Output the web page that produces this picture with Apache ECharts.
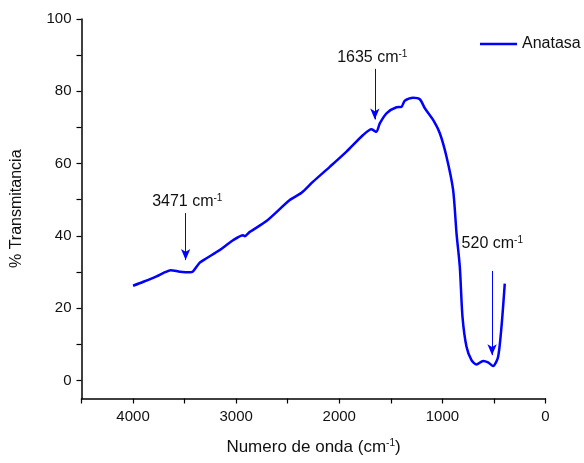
<!DOCTYPE html>
<html>
<head>
<meta charset="utf-8">
<script src="https://cdn.jsdelivr.net/npm/echarts@6/dist/echarts.min.js"></script>
<style>html,body{margin:0;padding:0;background:#fff}#c{width:584px;height:463px}</style>
</head>
<body>
<div id="c"></div>
<script>
// Wavenumber (cm-1) and transmittance (%)
const wavenumber = [4000, 3900, 3772, 3700, 3634, 3546, 3449, 3418, 3353, 3288, 3159, 3030, 2933, 2916, 2868, 2706, 2480, 2366, 2254, 2092, 1930, 1769, 1688, 1656, 1639, 1607, 1542, 1445, 1397, 1365, 1284, 1219, 1170, 1090, 1025, 960, 896, 863, 831, 805, 766, 718, 669, 605, 557, 508, 460, 427, 395];
const transmittance = [26.2, 27.3, 28.8, 29.8, 30.5, 30.1, 29.9, 30.2, 32.6, 33.8, 36.1, 38.8, 40.2, 39.9, 41.1, 44.1, 49.9, 51.9, 55.0, 59.1, 63.3, 67.9, 69.5, 69.0, 68.8, 71.1, 73.9, 75.6, 75.7, 77.4, 78.2, 77.8, 75.3, 72.1, 68.4, 61.9, 52.7, 40.7, 31.4, 17.6, 9.3, 5.6, 4.4, 5.4, 5.0, 4.0, 6.5, 14.8, 26.8];
const seriesName = 'Anatasa';
// Annotations
const annoText = ['3471 cm', '1635 cm', '520 cm'];
const annoLabelX = [3474, 1680, 516];
const annoLabelY = [49.6, 89.4, 37.9];
const arrowX = [3490, 1655, 518];
const arrowTop = [46.3, 86.2, 30.3];
const arrowTip = [33.3, 72.2, 7.0];
// Ticks and tick labels
const xLabels = [0, 1000, 2000, 3000, 4000];
const xTickValues = [0, 500, 1000, 1500, 2000, 2500, 3000, 3500, 4000, 4500];
const yLabels = [0, 20, 40, 60, 80, 100];
const yTickValues = [0, 10, 20, 30, 40, 50, 60, 70, 80, 90, 100];

const FONT = "'Liberation Sans', Arial, sans-serif";
const BLUE = '#0000FF';
const TXT = '#111';
const chart = echarts.init(document.getElementById('c'), null, {renderer: 'canvas'});
const data = wavenumber.map((w, i) => [w, transmittance[i]]);
chart.setOption({
  animation: false,
  backgroundColor: '#fff',
  grid: {left: 81.5, right: 38.5, top: 19, bottom: 64.5},
  legend: {
    left: 475, top: 31, itemWidth: 37, itemHeight: 2.5, itemGap: 5, icon: 'rect',
    data: [seriesName],
    textStyle: {fontSize: 16, fontFamily: FONT, color: TXT}
  },
  xAxis: {
    type: 'value', inverse: true, min: 0, max: 4500,
    splitLine: {show: false},
    axisLine: {lineStyle: {color: '#000', width: 1.5}, onZero: false},
    axisTick: {show: true, length: 5, customValues: xTickValues, lineStyle: {color: '#000', width: 1.2}},
    axisLabel: {fontSize: 15, fontFamily: FONT, color: TXT, margin: 11, customValues: xLabels,
      formatter: v => String(v)},
    name: 'Numero de onda (cm{s|-1}{a|)}', nameLocation: 'middle', nameGap: 40,
    nameTextStyle: {fontSize: 17, fontFamily: FONT, color: TXT,
      rich: {a: {fontSize: 17, fontFamily: FONT, color: TXT}, s: {fontSize: 10, fontFamily: FONT, color: TXT, verticalAlign: 'top'}}}
  },
  yAxis: {
    type: 'value', min: -5, max: 100,
    splitLine: {show: false},
    axisLine: {lineStyle: {color: '#000', width: 1.5}, onZero: false},
    axisTick: {show: true, length: 5, customValues: yTickValues, lineStyle: {color: '#000', width: 1.2}},
    axisLabel: {fontSize: 15, fontFamily: FONT, color: TXT, margin: 10, customValues: yLabels,
      formatter: v => String(v)},
    name: '% Transmitancia', nameLocation: 'middle', nameGap: 57, nameRotate: 90,
    nameTextStyle: {fontSize: 16, fontFamily: FONT, color: TXT}
  },
  series: [{
    name: seriesName, type: 'line', data: data, showSymbol: false, symbol: 'none',
    smooth: 0.25, lineStyle: {color: BLUE, width: 2.5}, itemStyle: {color: BLUE},
    markLine: {
      silent: true, symbol: ['none', 'arrow'], symbolSize: [7, 11],
      lineStyle: {color: BLUE, width: 1, type: 'solid'}, label: {show: false},
      data: arrowX.map((x, i) => [{coord: [x, arrowTop[i]]}, {coord: [x, arrowTip[i]]}])
    },
    markPoint: {
      silent: true, symbol: 'circle', symbolSize: 0,
      label: {show: true, position: 'inside', rich: {
        a: {fontSize: 16, fontFamily: FONT, color: TXT},
        s: {fontSize: 10, fontFamily: FONT, color: TXT, verticalAlign: 'top'}
      }},
      data: annoText.map((t, i) => ({coord: [annoLabelX[i], annoLabelY[i]],
        label: {formatter: '{a|' + t + '}{s|-1}'}}))
    }
  }]
});
</script>
</body>
</html>
